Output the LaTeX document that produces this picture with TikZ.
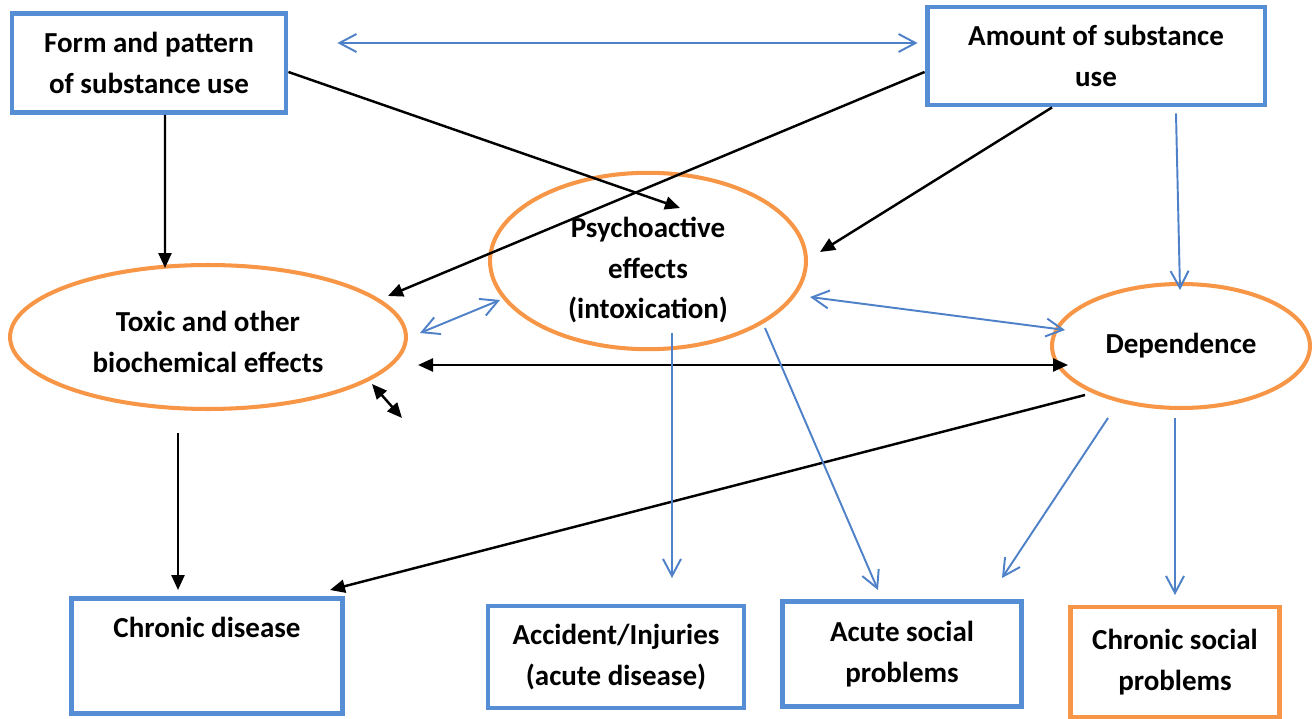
\documentclass[tikz,border=0pt]{standalone}
\usepackage{fontspec}
\setmainfont{Carlito}
\usetikzlibrary{shapes.geometric,arrows.meta}

\begin{document}
\begin{tikzpicture}[x=0.02cm, y=-0.02cm,
    box/.style={draw=boxblue, line width=2.8pt, align=center, inner sep=0pt,
      font=\bfseries\fontsize{16.5}{23.3}\selectfont},
    oval/.style={ellipse, draw=ovalorange, line width=2.3pt, align=center, inner sep=0pt,
      font=\bfseries\fontsize{16.5}{23.3}\selectfont},
    blk/.style={line width=1.4pt, >={Triangle[length=0.3cm,width=0.26cm]}},
    blu/.style={draw=arrowblue, line width=1.1pt, >={Straight Barb[length=0.34cm,width=0.36cm]}}]
    \definecolor{boxblue}{RGB}{85,142,213}
    \definecolor{arrowblue}{RGB}{79,129,200}
    \definecolor{ovalorange}{RGB}{247,150,70}
    \useasboundingbox (0,0) rectangle (1315,719);

    % causes (top)
    \node[box, minimum width=5.48cm, minimum height=1.98cm] (form) at (149,63)
      {Form and pattern\\of substance use};
    \node[box, minimum width=6.76cm, minimum height=1.96cm] (amount) at (1096,56)
      {Amount of substance\\use};

    % mechanisms
    \node[oval, minimum width=6.32cm, minimum height=3.5cm, text height=68.5pt] (psy) at (648,261)
      {Psychoactive\\effects\\(intoxication)};
    \node[oval, minimum width=7.92cm, minimum height=2.88cm, text height=40.7pt] (toxic) at (208,337)
      {Toxic and other\\biochemical effects};
    \node[oval, minimum width=5.16cm, minimum height=2.48cm] (dep) at (1181,346)
      {Dependence};

    % consequences (bottom)
    \node[box, minimum width=5.42cm, minimum height=2.3cm, text depth=1.15cm] (chronic) at (207,656)
      {Chronic disease};
    \node[box, minimum width=5.12cm, minimum height=2.04cm] (accident) at (616,657)
      {Accident/Injuries\\(acute disease)};
    \node[box, minimum width=4.78cm, minimum height=2.1cm] (acute) at (902,654)
      {Acute social\\problems};
    \node[box, draw=ovalorange, minimum width=4.18cm, minimum height=2.2cm] (chrsoc) at (1175,662)
      {Chronic social\\problems};

    % links between the causes
    \draw[blu, <->] ([xshift=0.98cm,yshift=0.4cm]form.east) -- ([xshift=-0.14cm,yshift=0.26cm]amount.west);

    % black arrows from the causes
    \draw[blk, ->] ([yshift=-0.18cm]form.east) -- ([shift={(32,-53)}]psy.center);
    \draw[blk, ->] ([xshift=0.32cm]form.south) -- ([shift={(-43,-69)}]toxic.center);
    \draw[blk, ->] ([yshift=-0.32cm]amount.west) -- ([shift={(180,-41)}]toxic.center);
    \draw[blk, ->] ([xshift=-0.88cm]amount.south) -- ([shift={(172,-9)}]psy.center);
    \draw[blu, ->] ([xshift=1.6cm,yshift=-0.12cm]amount.south) -- ([shift={(-1,-56)}]dep.center);

    % links between the mechanisms
    \draw[blu, <->] ([shift={(212,-4)}]toxic.center) -- ([shift={(-148,39)}]psy.center);
    \draw[blu, <->] ([shift={(162,36)}]psy.center) -- ([shift={(-116,-16)}]dep.center);
    \draw[blk, <->] ([shift={(210,28)}]toxic.center) -- ([shift={(-113,19)}]dep.center);
    \draw[blk, <->] ([shift={(164,47)}]toxic.center) -- ([shift={(194,81)}]toxic.center);

    % arrows to the consequences
    \draw[blk, ->] ([shift={(-30,96)}]toxic.center) -- ([shift={(-29,-66)}]chronic.center);
    \draw[blk, ->] ([shift={(-96,49)}]dep.center) -- ([shift={(123,-66)}]chronic.center);
    \draw[blu, ->] ([shift={(24,72)}]psy.center) -- ([shift={(56,-79)}]accident.center);
    \draw[blu, ->] ([shift={(117,67)}]psy.center) -- ([shift={(-24,-64)}]acute.center);
    \draw[blu, ->] ([shift={(-73,72)}]dep.center) -- ([shift={(100,-76)}]acute.center);
    \draw[blu, ->] ([shift={(-6,72)}]dep.center) -- ([shift={(0,-67)}]chrsoc.center);
  \end{tikzpicture}
\end{document}
